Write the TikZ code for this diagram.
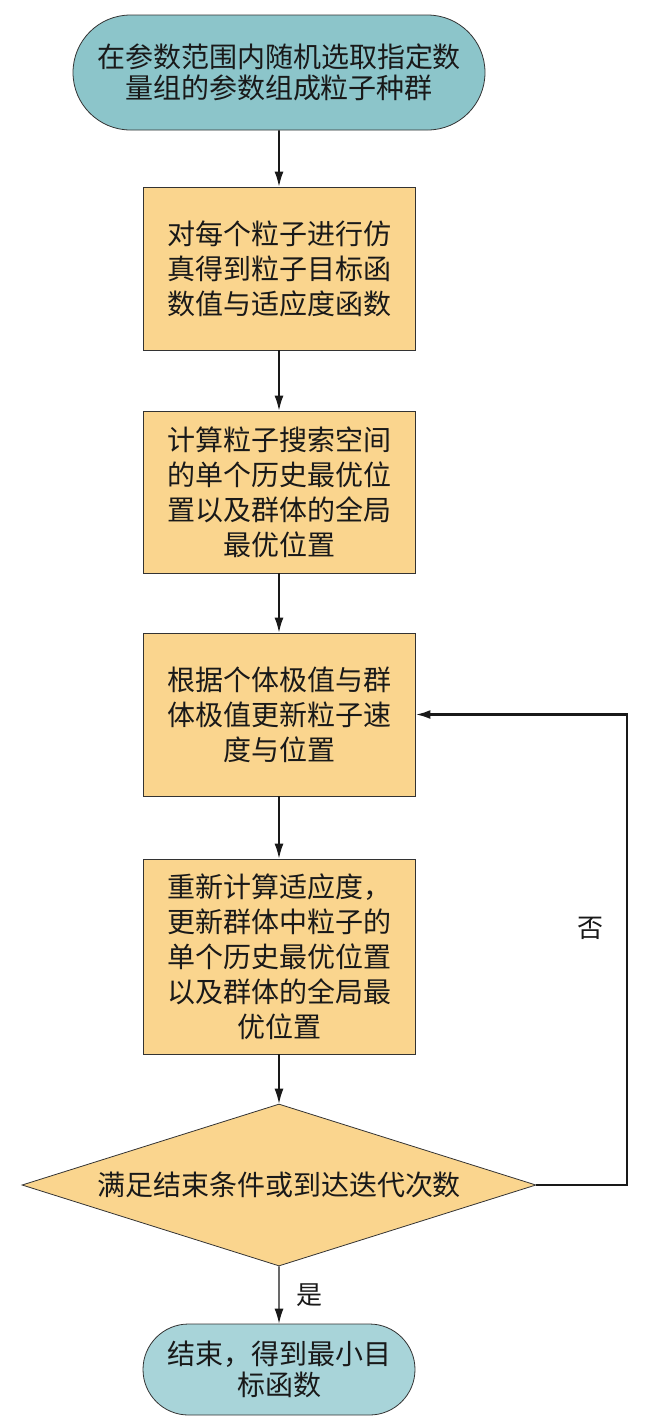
\documentclass[tikz,border=0pt]{standalone}
\usepackage{fontspec}
\newfontfamily\cjk{Noto Sans CJK SC}
\usetikzlibrary{arrows.meta,shapes.misc,shapes.geometric}
\definecolor{tealfill}{HTML}{8CC5CA}
\definecolor{tealend}{HTML}{A8D4D9}
\definecolor{boxfill}{HTML}{FAD58E}

\begin{document}
\begin{tikzpicture}[x=1pt,y=-1pt,
		every node/.style={font=\cjk\fontsize{28}{35}\selectfont,align=center,text=black!90},
		term/.style={rounded rectangle,draw=black!80,line width=0.8pt,inner sep=0pt,font=\cjk\fontsize{28}{31}\selectfont},
		proc/.style={rectangle,draw=black!80,fill=boxfill,line width=0.8pt,minimum width=272pt,inner sep=0pt},
		flow/.style={line width=1.6pt,black!90,-{Latex[length=15pt,width=9pt]}}]
			\useasboundingbox (0,0) rectangle (650,1428);
			\node[term,fill=tealfill,minimum width=412pt,minimum height=115pt] (start) at (279,72.5) {在参数范围内随机选取指定数\\量组的参数组成粒子种群};
			\node[proc,minimum height=163pt] (sim) at (279,268.5) {对每个粒子进行仿\\真得到粒子目标函\\数值与适应度函数};
			\node[proc,minimum height=162pt] (best) at (279,492) {计算粒子搜索空间\\的单个历史最优位\\置以及群体的全局\\最优位置};
			\node[proc,minimum height=163pt] (update) at (279,714.5) {根据个体极值与群\\体极值更新粒子速\\度与位置};
			\node[proc,minimum height=195pt] (refit) at (279,956.5) {重新计算适应度，\\更新群体中粒子的\\单个历史最优位置\\以及群体的全局最\\优位置};
			\node[diamond,draw=black!80,fill=boxfill,line width=0.8pt,inner sep=0pt,shape aspect=3.17,minimum width=514pt,minimum height=162pt] (cond) at (279,1185) {满足结束条件或到达迭代次数};
			\node[term,fill=tealend,minimum width=272pt,minimum height=91pt] (stop) at (279,1369.5) {结束，得到最小目\\标函数};
			\coordinate (turn) at (627,1185);
			\draw[flow] (start) -- (sim);
			\draw[flow] (sim) -- (best);
			\draw[flow] (best) -- (update);
			\draw[flow] (update) -- (refit);
			\draw[flow,line width=1.2pt] (refit) -- (cond);
			\draw[flow,line width=1.2pt] (cond) -- node[right=14pt,font=\cjk\fontsize{26}{30}\selectfont] (yes) {是} (stop);
			\draw[flow,line width=2.6pt] (cond.east) -- (turn) |- (update.east);
			\node[font=\cjk\fontsize{26}{30}\selectfont] (no) at (590,928) {否};
		\end{tikzpicture}
\end{document}
